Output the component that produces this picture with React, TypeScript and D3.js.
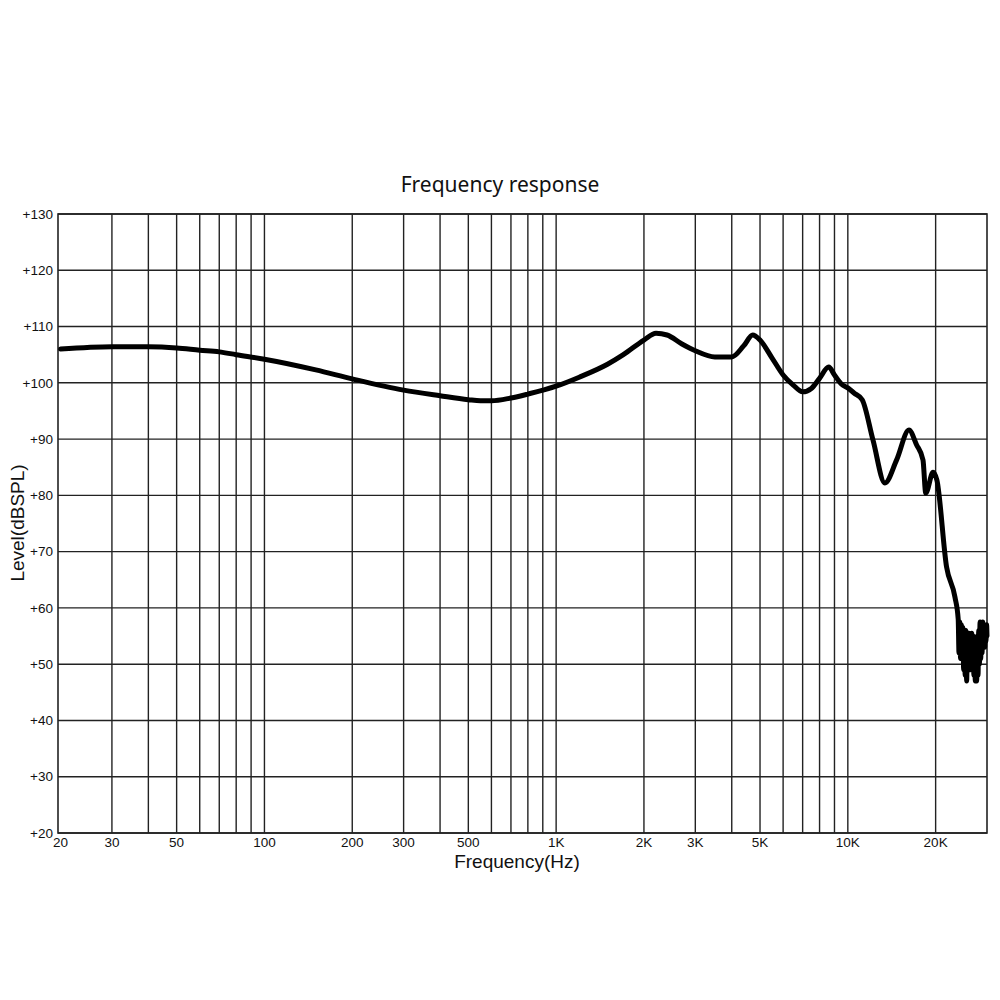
import * as d3 from 'd3';

// Frequency response curve (Hz, dBSPL)
const freqs = [
  20, 30, 40, 50, 60, 70, 80, 100, 150, 200, 300, 400, 500, 550, 600, 700, 800,
  1000, 1200, 1500, 1700, 2000, 2200, 2400, 2700, 3000, 3500, 4000, 4400, 4720,
  5000, 5500, 6000, 6500, 7000, 7500, 8000, 8600, 9000, 9500, 10000, 10500,
  11200, 12200, 13400, 14700, 16200, 17200, 18100, 18500, 19600, 20200, 21800,
  23300, 23900, 24050, 24200, 24350, 24500, 24650, 24800, 24950, 25100, 25250,
  25400, 25550, 25700, 25850, 26000, 26150, 26300, 26450, 26600, 26750, 26900,
  27050, 27200, 27350, 27500, 27650, 27800, 27950, 28100, 28250, 28400, 28550,
  28700, 28850, 29000, 29150, 29300, 29450, 29600, 29750, 29900, 30000,
];
const levels = [
  106, 106.4, 106.4, 106.2, 105.8, 105.5, 105, 104.2, 102.3, 100.7, 98.7, 97.7,
  97.0, 96.8, 96.8, 97.3, 98, 99.4, 101, 103.3, 105, 107.6, 108.8, 108.5, 106.9,
  105.7, 104.6, 104.6, 106.6, 108.5, 107.6, 104.4, 101.4, 99.6, 98.4, 99, 100.8,
  102.8, 101.4, 99.8, 99.1, 98.2, 97, 89.8, 82.2, 86.3, 91.6, 89, 86.3, 80.4,
  84.1, 82.7, 67.3, 61.9, 58, 52, 57.5, 51, 57, 52, 56.5, 49, 55, 48, 56, 47,
  54, 50, 55.5, 49, 55, 51, 55.5, 50, 55, 48, 54, 47, 54.5, 47, 55, 48, 56, 50,
  57.5, 51, 57, 52, 57.5, 53, 57, 53, 56.5, 54, 57, 55,
];

const gridFreqs = [
  30, 40, 50, 60, 70, 80, 90, 100, 200, 300, 400, 500, 600, 700, 800, 900, 1000,
  2000, 3000, 4000, 5000, 6000, 7000, 8000, 9000, 10000, 20000,
];
const xTicks = [20, 30, 50, 100, 200, 300, 500, 1000, 2000, 3000, 5000, 10000, 20000];
const xTickLabels = ['20', '30', '50', '100', '200', '300', '500', '1K', '2K', '3K', '5K', '10K', '20K'];
const yTicks = [20, 30, 40, 50, 60, 70, 80, 90, 100, 110, 120, 130];

export default function App() {
  const left = 58, right = 987, top = 214, bottom = 833;
  const x = d3.scaleLog().domain([19.6, 30000]).range([left, right]);
  const y = d3.scaleLinear().domain([20, 130]).range([bottom, top]);

  const pts: [number, number][] = freqs.map((f, i) => [f, levels[i]]);
  const line = d3
    .line<[number, number]>()
    .x((d) => x(d[0]))
    .y((d) => y(d[1]))
    .curve(d3.curveMonotoneX);

  const gridColor = '#222';
  const tickFont = '"Liberation Sans", Arial, sans-serif';

  return (
    <svg
      width={1000}
      height={1000}
      style={{ position: 'absolute', left: 0, top: 0, background: '#fff' }}
    >
      <rect x={0} y={0} width={1000} height={1000} fill="#fff" />
      <text
        x={500}
        y={192}
        textAnchor="middle"
        fontFamily='"Noto Sans", sans-serif'
        fontSize={21}
        fill="#111"
      >
        Frequency response
      </text>

      {/* horizontal grid */}
      {yTicks.map((v) => (
        <line key={'h' + v} x1={left} x2={right} y1={y(v)} y2={y(v)} stroke={gridColor} strokeWidth={1.4} />
      ))}
      {/* vertical grid */}
      {gridFreqs.map((f) => (
        <line key={'v' + f} x1={x(f)} x2={x(f)} y1={top} y2={bottom} stroke={gridColor} strokeWidth={1.4} />
      ))}
      <rect x={left} y={top} width={right - left} height={bottom - top} fill="none" stroke={gridColor} strokeWidth={1.6} />

      {/* y tick labels */}
      {yTicks.map((v) => (
        <text
          key={'yl' + v}
          x={53}
          y={y(v)}
          dy="0.35em"
          textAnchor="end"
          fontFamily={tickFont}
          fontSize={13.5}
          fill="#111"
        >
          {'+' + v}
        </text>
      ))}
      {/* x tick labels */}
      {xTicks.map((f, i) => (
        <text
          key={'xl' + f}
          x={x(f)}
          y={847}
          textAnchor="middle"
          fontFamily={tickFont}
          fontSize={13.5}
          fill="#111"
        >
          {xTickLabels[i]}
        </text>
      ))}

      <text x={517} y={868} textAnchor="middle" fontFamily={tickFont} fontSize={19} fill="#111">
        Frequency(Hz)
      </text>
      <text
        transform="translate(24,523) rotate(-90)"
        textAnchor="middle"
        fontFamily={tickFont}
        fontSize={19}
        fill="#111"
      >
        Level(dBSPL)
      </text>

      <path
        d={line(pts) || ''}
        fill="none"
        stroke="#000"
        strokeWidth={5}
        strokeLinejoin="round"
        strokeLinecap="round"
      />
    </svg>
  );
}
